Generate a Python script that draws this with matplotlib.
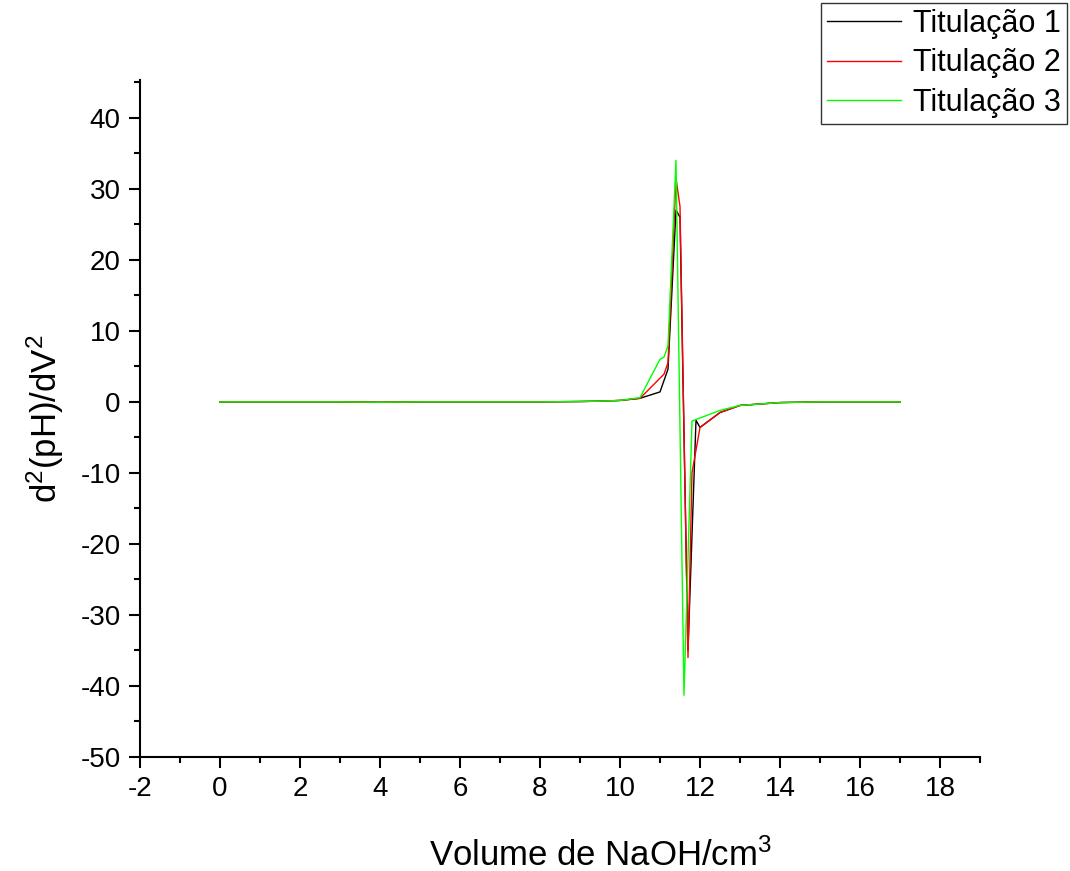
import numpy as np
import matplotlib.pyplot as plt
from matplotlib.ticker import MultipleLocator

plt.rcParams['font.family'] = ['Liberation Sans', 'DejaVu Sans']
plt.rcParams['axes.unicode_minus'] = False
plt.rcParams['mathtext.fontset'] = 'custom'
plt.rcParams['mathtext.rm'] = 'Liberation Sans'
plt.rcParams['mathtext.it'] = 'Liberation Sans'
plt.rcParams['mathtext.default'] = 'regular'

# Titulação 1 (preto)
x1 = [0, 1, 2, 3, 4, 5, 6, 7, 8, 9, 9.5, 10, 10.5, 11.0, 11.2, 11.4, 11.5, 11.7, 11.9, 12.0, 12.5, 13, 14, 15, 16, 17]
y1 = [0, 0, 0, 0, -0.05, 0, 0, 0, 0, 0.05, 0.1, 0.2, 0.5, 1.4, 4.6, 27.0, 26.0, -35.0, -2.6, -3.6, -1.5, -0.5, -0.1, 0, 0, 0]
# Titulação 2 (vermelho)
x2 = [0, 1, 2, 3, 4, 5, 6, 7, 8, 9, 9.5, 10, 10.5, 11.1, 11.2, 11.4, 11.5, 11.7, 11.8, 12.0, 12.5, 13, 14, 15, 16, 17]
y2 = [0, 0, 0, 0, -0.05, 0, 0, 0, 0, 0.05, 0.1, 0.2, 0.5, 3.9, 5.5, 31.5, 27.5, -36.0, -10.0, -3.6, -1.5, -0.5, -0.1, 0, 0, 0]
# Titulação 3 (verde)
x3 = [0, 1, 2, 3, 4, 5, 6, 7, 8, 9, 9.5, 10, 10.5, 11.0, 11.1, 11.2, 11.4, 11.6, 11.8, 12.5, 13, 14, 15, 16, 17]
y3 = [0, 0, 0, 0, -0.05, 0, 0, 0, 0, 0.05, 0.1, 0.2, 0.6, 6.0, 6.3, 7.9, 34.0, -41.3, -2.7, -1.2, -0.5, -0.1, 0, 0, 0]

fig = plt.figure(figsize=(10.7, 8.71), dpi=100)
ax = fig.add_axes([0.1308, 0.1309, 0.7851, 0.7771])

ax.plot(x1, y1, color='black', lw=1, label='Titulação 1')
ax.plot(x2, y2, color='red', lw=1, label='Titulação 2')
ax.plot(x3, y3, color='#00ff00', lw=1, label='Titulação 3')

ax.set_xlim(-2, 19)
ax.set_ylim(-50, 45.3)
ax.xaxis.set_major_locator(MultipleLocator(2))
ax.xaxis.set_minor_locator(MultipleLocator(1))
ax.yaxis.set_major_locator(MultipleLocator(10))
ax.yaxis.set_minor_locator(MultipleLocator(5))
ax.set_xticks(np.arange(-2, 19, 2))
ax.set_yticks(np.arange(-50, 41, 10))

for s in ['top', 'right']:
    ax.spines[s].set_visible(False)
for s in ['left', 'bottom']:
    ax.spines[s].set_linewidth(1.5)
ax.tick_params(which='major', direction='out', length=8, width=1.5, labelsize=20, pad=6)
ax.tick_params(which='minor', direction='out', length=4, width=1.5)

ax.set_xlabel('Volume de NaOH/cm$^3$', fontsize=25)
ax.xaxis.set_label_coords(0.548, -0.12)
ax.set_ylabel('d$^2$(pH)/dV$^2$', fontsize=25, labelpad=10)

leg = fig.legend(loc='upper right', bbox_to_anchor=(1.0, 1.0), fontsize=22,
                 frameon=True, fancybox=False, edgecolor='black', handlelength=2.4,
                 borderpad=0.2, labelspacing=0.3, handletextpad=0.4, borderaxespad=0.1)
leg.get_frame().set_linewidth(1)

fig.savefig('out.png', dpi=100)
